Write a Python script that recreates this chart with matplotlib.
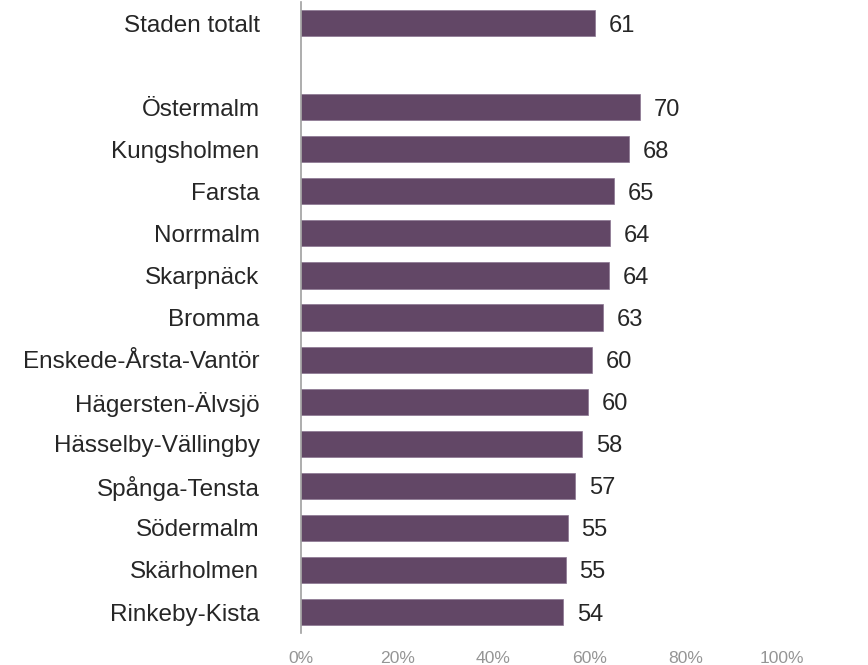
import matplotlib.pyplot as plt

plt.rcParams['font.family'] = ['Liberation Sans', 'DejaVu Sans']

districts = ["Staden totalt", "", "Östermalm", "Kungsholmen", "Farsta", "Norrmalm",
             "Skarpnäck", "Bromma", "Enskede-Årsta-Vantör", "Hägersten-Älvsjö",
             "Hässelby-Vällingby", "Spånga-Tensta", "Södermalm", "Skärholmen",
             "Rinkeby-Kista"]
values = [61.0, None, 70.4, 68.2, 65.1, 64.2, 64.0, 62.8, 60.4, 59.6,
          58.4, 57.0, 55.4, 55.0, 54.4]
labels = ["61", "", "70", "68", "65", "64", "64", "63", "60", "60",
          "58", "57", "55", "55", "54"]
xticks = [0, 20, 40, 60, 80, 100]

fig = plt.figure(figsize=(8.68, 6.65), dpi=100)
ax = fig.add_axes([0.347, 0.048, 0.554, 0.949])

color = "#624766"
for i, (v, lab) in enumerate(zip(values, labels)):
    if v is None:
        continue
    ax.barh(i, v, height=0.62, color=color, edgecolor="#8a7590", linewidth=0.5)
    ax.annotate(lab, (v, i), xytext=(10, 0), textcoords="offset points",
                va="center_baseline", ha="left", fontsize=17, color="#262626")

ax.set_ylim(14.5, -0.5)
ax.set_xlim(0, 100)
ax.set_yticks(range(len(districts)))
ax.set_yticklabels(districts, fontsize=17.5, color="#262626", va="center_baseline")
ax.tick_params(axis="y", length=0, pad=30)
ax.set_xticks(xticks)
ax.set_xticklabels([f"{t}%" for t in xticks], fontsize=12.6, color="#959595")
ax.tick_params(axis="x", length=0, pad=13)

for s in ["top", "right", "bottom"]:
    ax.spines[s].set_visible(False)
ax.spines["left"].set_color("#a0a0a0")
ax.spines["left"].set_linewidth(1.2)

fig.savefig("out.png", dpi=100)
